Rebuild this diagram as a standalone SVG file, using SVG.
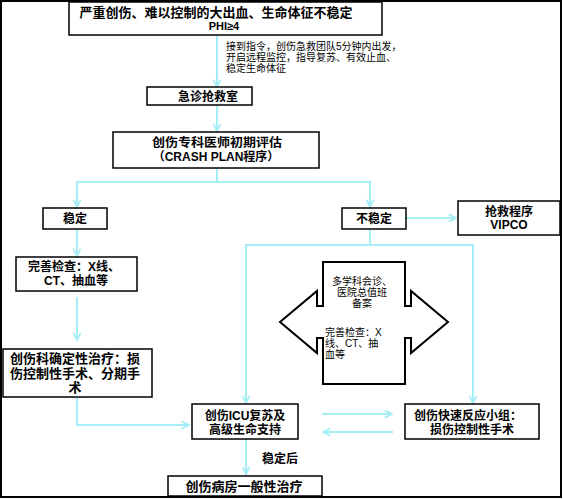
<svg xmlns="http://www.w3.org/2000/svg" width="563" height="499" viewBox="0 0 563 499">
<defs>
<style>
.box{fill:#fff;stroke:#000;stroke-width:1.5}
.t{font-family:"Liberation Sans","Noto Sans CJK SC",sans-serif;font-weight:bold;font-size:12px;fill:#000;text-anchor:middle}
.s{font-family:"Liberation Sans","Noto Sans CJK SC",sans-serif;font-size:10px;fill:#000}
.c{fill:none;stroke:#a6eef6;stroke-width:2}
.ca{fill:none;stroke:#a6eef6;stroke-width:2;marker-end:url(#ah)}
</style>
<marker id="ah" viewBox="0 0 10 10" refX="9" refY="5" markerWidth="9" markerHeight="9" markerUnits="userSpaceOnUse" orient="auto">
<path d="M1,1 L9,5 L1,9" fill="none" stroke="#a6eef6" stroke-width="2"/>
</marker>
</defs>
<rect x="1" y="1" width="560" height="496" fill="#fff" stroke="#000" stroke-width="2"/>
<g id="connectors">
<path class="ca" d="M217,36 V87"/>
<path class="ca" d="M217,106 V131"/>
<path class="ca" d="M217,168 V182 H77 V207"/>
<path class="ca" d="M217,182 H370 V207"/>
<path class="ca" d="M406,218 H456"/>
<path class="ca" d="M370,229 V245 H246 V403"/>
<path class="ca" d="M370,245 H473 V403"/>
<path class="ca" d="M77,229 V256"/>
<path class="ca" d="M77,297 V340"/>
<path class="ca" d="M77,397 V425 H189"/>
<path class="ca" d="M322,414 H392"/>
<path class="ca" d="M393,432 H323"/>
<path class="ca" d="M246,439 V474"/>
</g>
<g id="n-top">
<rect class="box" x="69" y="2" width="313" height="33"/>
<text class="t" x="216" y="17" style="font-size:13px">严重创伤、难以控制的大出血、生命体征不稳定</text>
<text class="t" x="224" y="30" style="font-size:11px">PHI≥4</text>
</g>
<g id="n-note">
<text class="s" x="226" y="49.5">接到指令，创伤急救团队5分钟内出发，</text>
<text class="s" x="226" y="60.5">开启远程监控，指导复苏、有效止血、</text>
<text class="s" x="226" y="71.5">稳定生命体征</text>
</g>
<g id="n-er">
<rect class="box" x="147" y="87" width="105" height="18"/>
<text class="t" x="208" y="100.5">急诊抢救室</text>
</g>
<g id="n-assess">
<rect class="box" x="113" y="132" width="206" height="36"/>
<text class="t" x="217" y="147" textLength="130" lengthAdjust="spacingAndGlyphs">创伤专科医师初期评估</text>
<text class="t" x="216" y="161">（CRASH PLAN程序）</text>
</g>
<g id="n-stable">
<rect class="box" x="43" y="208" width="64" height="21"/>
<text class="t" x="75" y="222.5">稳定</text>
</g>
<g id="n-unstable">
<rect class="box" x="342" y="208" width="64" height="21"/>
<text class="t" x="374" y="222.5">不稳定</text>
</g>
<g id="n-vipco">
<rect class="box" x="458" y="201" width="102" height="34"/>
<text class="t" x="509" y="215.5">抢救程序</text>
<text class="t" x="509" y="228.5">VIPCO</text>
</g>
<g id="n-check">
<rect class="box" x="16" y="257" width="121" height="34"/>
<text class="t" x="74" y="271">完善检查：X线、</text>
<text class="t" x="76" y="285">CT、抽血等</text>
</g>
<g id="n-definitive">
<rect class="box" x="3" y="349" width="149" height="48"/>
<text class="t" x="75" y="362.5" style="font-size:13px">创伤科确定性治疗：损</text>
<text class="t" x="75" y="377.5" style="font-size:13px">伤控制性手术、分期手</text>
<text class="t" x="75" y="392" style="font-size:13px">术</text>
</g>
<g id="n-mdt">
<path d="M323,262 H405 V306 H411 V291 L448,322 L411,353 V338 H405 V384 H323 V338 H317 V353 L280,322 L317,291 V306 H323 Z" fill="#fff" stroke="#000" stroke-width="2"/>
<text class="s" x="362" y="284.5" text-anchor="middle">多学科会诊、</text>
<text class="s" x="362" y="295.5" text-anchor="middle">医院总值班</text>
<text class="s" x="362" y="306.5" text-anchor="middle">备案</text>
<text class="s" x="325" y="335.5">完善检查：X</text>
<text class="s" x="325" y="346.5">线、CT、抽</text>
<text class="s" x="325" y="357.5">血等</text>
</g>
<g id="n-icu">
<rect class="box" x="192" y="404" width="106" height="35"/>
<text class="t" x="245" y="419.5">创伤ICU复苏及</text>
<text class="t" x="245" y="433.5">高级生命支持</text>
</g>
<g id="n-rapid">
<rect class="box" x="405" y="404" width="134" height="35"/>
<text class="t" x="468" y="419.5">创伤快速反应小组：</text>
<text class="t" x="472" y="433.5">损伤控制性手术</text>
</g>
<g id="n-label">
<text class="t" x="280" y="462.5">稳定后</text>
</g>
<g id="n-ward">
<rect class="box" x="168" y="476" width="154" height="20"/>
<text class="t" x="244" y="491" style="font-size:13px">创伤病房一般性治疗</text>
</g>
</svg>
